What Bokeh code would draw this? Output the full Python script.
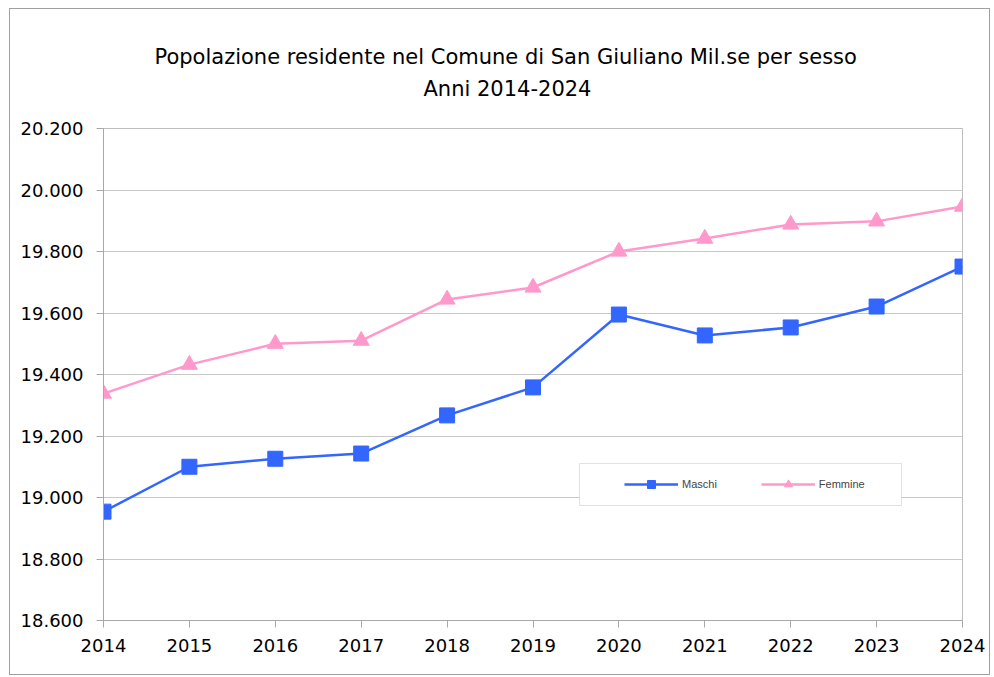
from bokeh.plotting import figure
from bokeh.models import (Range1d, FixedTicker, CustomJSTickFormatter, Legend, LegendItem,
                          Title, BoxAnnotation)
from bokeh.embed import file_html
from bokeh.resources import INLINE

years = [2014, 2015, 2016, 2017, 2018, 2019, 2020, 2021, 2022, 2023, 2024]
maschi = [18954, 19100, 19126, 19143, 19267, 19358, 19595, 19527, 19553, 19621, 19751]
femmine = [19338, 19432, 19500, 19510, 19644, 19683, 19800, 19842, 19888, 19898, 19946]
y_ticks = [18600, 18800, 19000, 19200, 19400, 19600, 19800, 20000, 20200]
title1 = "Popolazione residente nel Comune di San Giuliano Mil.se per sesso"
title2 = "Anni 2014-2024"

FONT = "DejaVu Sans"
BLUE = "#3366ff"
PINK = "#ff99cc"

p = figure(width=981, height=667, output_backend="svg", toolbar_location=None,
           x_range=Range1d(2014, 2024), y_range=Range1d(18600, 20200),
           min_border_left=93, min_border_right=29, min_border_top=119, min_border_bottom=56)
p.styles = {"border": "1px solid #a0a0a0", "margin-left": "9px", "margin-top": "8px"}
p.background_fill_color = "white"
p.border_fill_color = "white"
p.outline_line_color = "#bdbdbd"
p.outline_line_width = 1

p.xgrid.grid_line_color = None
p.ygrid.grid_line_color = "#c8c8c8"
p.ygrid.grid_line_width = 1
p.ygrid.ticker = FixedTicker(ticks=y_ticks)

p.xaxis.ticker = FixedTicker(ticks=years)
p.yaxis.ticker = FixedTicker(ticks=y_ticks)
p.yaxis.formatter = CustomJSTickFormatter(code=r"return tick.toFixed(0).replace(/\B(?=(\d{3})+(?!\d))/g, '.');")
for ax in (p.xaxis, p.yaxis):
    ax.axis_line_color = "#a8a8a8"
    ax.major_tick_line_color = "#a8a8a8"
    ax.major_tick_out = 7
    ax.major_tick_in = 0
    ax.minor_tick_line_color = None
    ax.major_label_text_font = FONT
    ax.major_label_text_font_size = "18px"
    ax.major_label_text_color = "#000000"
p.xaxis.major_label_standoff = 11
p.yaxis.major_label_standoff = 13

lm = p.line(years, maschi, line_color=BLUE, line_width=2.5)
sm = p.scatter(years, maschi, marker="square", size=15, fill_color=BLUE, line_color=BLUE)
lf = p.line(years, femmine, line_color=PINK, line_width=2.5)
sf = p.scatter(years, femmine, marker="triangle", size=16, fill_color=PINK, line_color=PINK)

box = BoxAnnotation(left=476, right=798, bottom=115, top=157,
                    left_units="screen", right_units="screen", bottom_units="screen", top_units="screen",
                    fill_color="white", fill_alpha=1.0, line_color="#a0a0a0", line_width=1)
p.add_layout(box)

legend = Legend(items=[LegendItem(label="Maschi", renderers=[lm, sm]),
                       LegendItem(label="Femmine", renderers=[lf, sf])],
                orientation="horizontal", location=(521, 126),
                glyph_width=54, glyph_height=20, label_standoff=4, spacing=44,
                padding=0, margin=0, background_fill_alpha=0, border_line_color=None,
                label_text_font="Liberation Sans", label_text_font_size="11px")
p.add_layout(legend, "center")

# spacer between the plot area and the two title lines
p.add_layout(Title(text=" ", text_font_size="1px", standoff=21), "above")
p.add_layout(Title(text=title2, align="left", offset=320, text_font=FONT, text_font_size="21px",
                   text_font_style="normal", text_color="#000000", standoff=7), "above")
p.add_layout(Title(text=title1, align="left", offset=51, text_font=FONT, text_font_size="21px",
                   text_font_style="normal", text_color="#000000", standoff=6), "above")

open("out.html", "w").write(file_html(p, INLINE))
